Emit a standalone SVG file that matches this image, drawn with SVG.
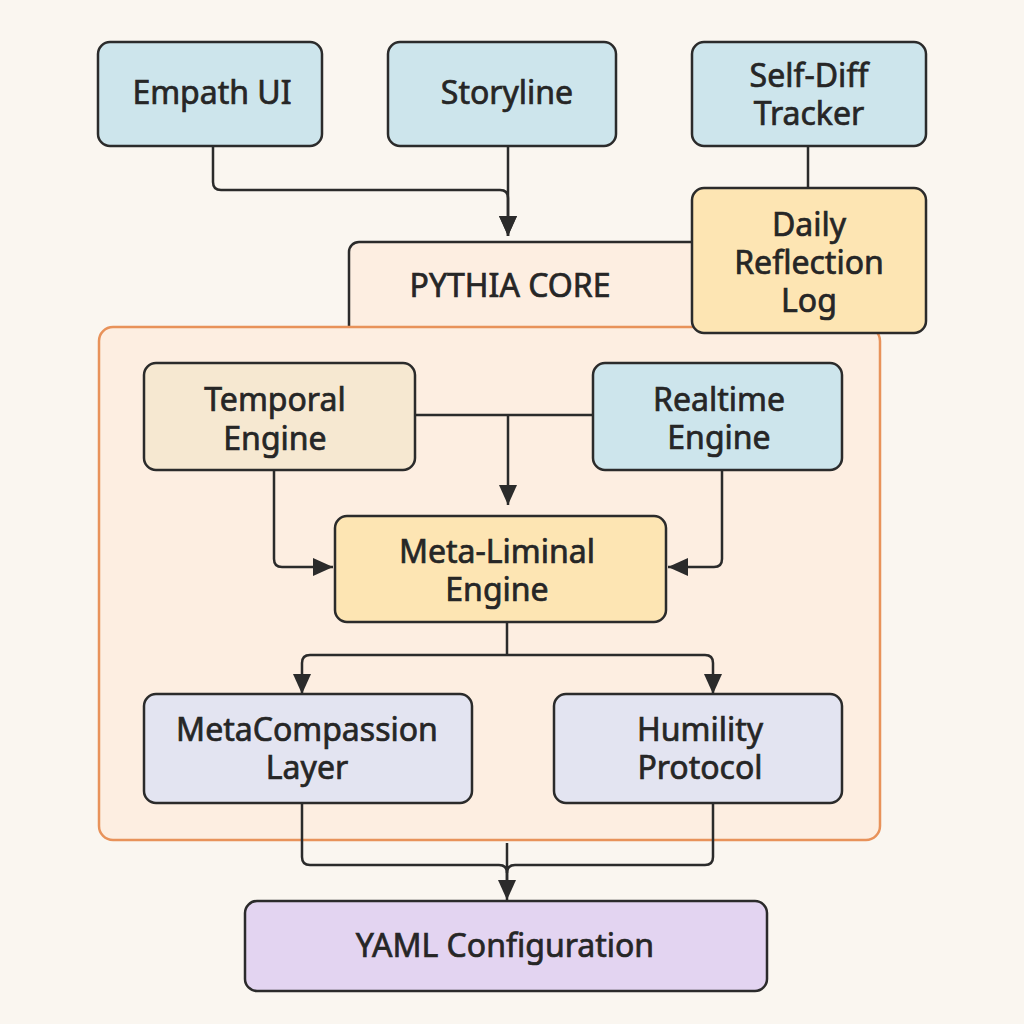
<svg xmlns="http://www.w3.org/2000/svg" width="1024" height="1024" viewBox="0 0 1024 1024">
<defs>
<style>
.node{stroke:#2b2b2b;stroke-width:2.5}
.t{font-family:"Noto Sans","Liberation Sans",sans-serif;font-size:32px;fill:#262626;stroke:#262626;stroke-width:0.7;text-anchor:middle}
.c{fill:none;stroke:#2b2b2b;stroke-width:2.5;stroke-linejoin:round}
.blue{fill:#cde5ec}
.yel{fill:#fde5b3}
.tan{fill:#f6e8d1}
.lav{fill:#e3e4f1}
.pur{fill:#e3d4f1}
</style>
<marker id="ah" viewBox="0 0 20 20" refX="20" refY="10" markerWidth="20" markerHeight="20" markerUnits="userSpaceOnUse" orient="auto">
<path d="M0,1 L20,10 L0,19 Z" fill="#2b2b2b"/>
</marker>
</defs>
<rect width="1024" height="1024" fill="#faf6f0"/>
<g id="pythia-core">
<rect x="349" y="242" width="360" height="100" rx="10" fill="#fdeee1" stroke="#2b2b2b" stroke-width="2.5"/>
<rect x="99" y="327" width="781" height="513" rx="14" fill="#fdeee1" stroke="#e8925a" stroke-width="2.5"/>
<text class="t" x="510" y="297">PYTHIA CORE</text>
</g>
<g id="connectors">
<path class="c" d="M213,146 V182 Q213,190 221,190 H500 Q508,190 508,198 V236" marker-end="url(#ah)"/>
<path class="c" d="M508,146 V236" marker-end="url(#ah)"/>
<path class="c" d="M808,146 V188"/>
<path class="c" d="M415,415 H593"/>
<path class="c" d="M508,415 V505" marker-end="url(#ah)"/>
<path class="c" d="M274,470 V559 Q274,567 282,567 H333" marker-end="url(#ah)"/>
<path class="c" d="M722,470 V559 Q722,567 714,567 H668" marker-end="url(#ah)"/>
<path class="c" d="M507,622 V655"/>
<path class="c" d="M507,655 H310 Q302,655 302,663 V694" marker-end="url(#ah)"/>
<path class="c" d="M507,655 H705 Q713,655 713,663 V694" marker-end="url(#ah)"/>
<path class="c" d="M302,803 V857 Q302,865 310,865 H499 Q507,865 507,873 V900" marker-end="url(#ah)"/>
<path class="c" d="M713,803 V857 Q713,865 705,865 H515 Q507,865 507,873"/>
<path class="c" d="M507,843 V880"/>
</g>
<g id="empath-ui">
<rect class="node blue" x="98" y="42" width="224" height="104" rx="12"/>
<text class="t" x="212" y="104">Empath UI</text>
</g>
<g id="storyline">
<rect class="node blue" x="388" y="42" width="228" height="104" rx="12"/>
<text class="t" x="507" y="104">Storyline</text>
</g>
<g id="self-diff-tracker">
<rect class="node blue" x="692" y="42" width="234" height="104" rx="12"/>
<text class="t" x="809" y="87">Self-Diff</text>
<text class="t" x="809" y="125">Tracker</text>
</g>
<g id="daily-reflection-log">
<rect class="node yel" x="692" y="188" width="234" height="145" rx="12"/>
<text class="t" x="809" y="236">Daily</text>
<text class="t" x="809" y="274">Reflection</text>
<text class="t" x="809" y="312">Log</text>
</g>
<g id="temporal-engine">
<rect class="node tan" x="144" y="363" width="271" height="107" rx="12"/>
<text class="t" x="275" y="411">Temporal</text>
<text class="t" x="275" y="450">Engine</text>
</g>
<g id="realtime-engine">
<rect class="node blue" x="593" y="363" width="249" height="107" rx="12"/>
<text class="t" x="719" y="411">Realtime</text>
<text class="t" x="719" y="449">Engine</text>
</g>
<g id="meta-liminal-engine">
<rect class="node yel" x="335" y="516" width="331" height="106" rx="12"/>
<text class="t" x="497" y="563">Meta-Liminal</text>
<text class="t" x="497" y="601">Engine</text>
</g>
<g id="metacompassion-layer">
<rect class="node lav" x="144" y="694" width="328" height="109" rx="12"/>
<text class="t" x="307" y="741">MetaCompassion</text>
<text class="t" x="307" y="779">Layer</text>
</g>
<g id="humility-protocol">
<rect class="node lav" x="554" y="694" width="288" height="109" rx="12"/>
<text class="t" x="700" y="741">Humility</text>
<text class="t" x="700" y="779">Protocol</text>
</g>
<g id="yaml-configuration">
<rect class="node pur" x="245" y="901" width="522" height="90" rx="12"/>
<text class="t" x="505" y="957">YAML Configuration</text>
</g>
</svg>
